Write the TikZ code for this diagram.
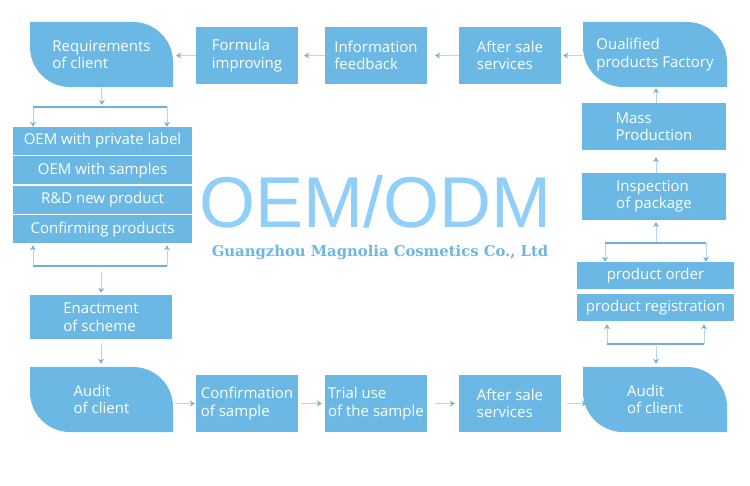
\documentclass[tikz,border=0pt]{standalone}
\usepackage{fontspec}
\setmainfont{Open Sans}
\newfontfamily\titlefont{Liberation Sans}
\newfontfamily\namefont{DejaVu Serif}
\usetikzlibrary{arrows.meta, positioning, calc}
\definecolor{cbox}{HTML}{6AB8E3}
\definecolor{cshaft}{HTML}{B5D7EE}
\definecolor{chead}{HTML}{74B2DA}
\definecolor{cbrace}{HTML}{6DB1DB}
\definecolor{ctitle}{HTML}{8FCFFA}
\tikzset{
  every picture/.style={x=1pt, y=1pt},
  box/.style={fill=cbox, text=white, align=left, inner sep=2pt, minimum width=102pt, minimum height=57pt,
    font=\fontsize{15}{17.5}\selectfont},
  leaf/.style={box, fill=white, minimum width=143pt, minimum height=65pt,
    path picture={\fill[cbox] (path picture bounding box.north west)
      -- ([xshift=-40pt]path picture bounding box.north east)
      arc[start angle=90, end angle=0, radius=40pt]
      -- (path picture bounding box.south east)
      -- ([xshift=40pt]path picture bounding box.south west)
      arc[start angle=270, end angle=180, radius=40pt] -- cycle;}},
  row/.style={box, align=center, minimum width=179pt, minimum height=28pt},
  arrow/.style={draw=cshaft, line width=1pt, -{Stealth[length=5pt, width=6pt, color=chead]}},
  brace/.style={draw=cbrace, line width=2.2pt},
}

\begin{document}
\begin{tikzpicture}
  \useasboundingbox (0,0) rectangle (750,485);
  % top row
  \node[leaf] (req) at (101.5,430.5) {Requirements\\of client};
  \node[box] (formula) at (247,429.5) {Formula\\improving};
  \node[box] (info) at (376,429.5) {Information\\feedback};
  \node[box] (aftertop) at (510,429.5) {After sale\\services};
  \node[leaf, minimum width=144pt] (qual) at (655,430.5) {Oualified\\products Factory};
  % left column
  \node[row] (oem1) at (102.5,344) {OEM with private label};
  \node[row, below=1pt of oem1] (oem2) {OEM with samples};
  \node[row, below=1pt of oem2] (oem3) {R\&D new product};
  \node[row, below=1pt of oem3] (oem4) {Confirming products};
  \node[box, minimum width=142pt, minimum height=44pt] (enact) at (101,168) {Enactment\\of scheme};
  % right column
  \node[box, minimum width=144pt, minimum height=47pt] (mass) at (654,358.5) {Mass\\Production};
  \node[box, minimum width=144pt, minimum height=47pt] (insp) at (654,288.5) {Inspection\\of package};
  \node[row, minimum width=157pt, minimum height=27pt] (order) at (655.5,209.5) {product order};
  \node[row, minimum width=157pt, minimum height=27pt] (reg) at (655.5,177.5) {product registration};
  % bottom row
  \node[leaf] (auditL) at (101.5,85.5) {Audit\\of client};
  \node[box] (confirm) at (247,81.5) {Confirmation\\of sample};
  \node[box] (trial) at (376,81.5) {Trial use\\of the sample};
  \node[box] (afterbot) at (510,81.5) {After sale\\services};
  \node[leaf, minimum width=144pt] (auditR) at (655,85.5) {Audit\\of client};
  % centre title
  \node[anchor=base, font=\titlefont\fontsize{72}{72}\selectfont, text=ctitle] (title) at (375,257) {OEM/ODM};
  \node[anchor=base, font=\namefont\bfseries\fontsize{14.8}{14.8}\selectfont, text=cbox] (company) at (380,228)
    {Guangzhou Magnolia Cosmetics Co., Ltd};
  % bracket points
  \coordinate (lt) at (102,378); \coordinate (ltl) at (33,378); \coordinate (ltr) at (167,378);
  \coordinate (lb) at (102,219); \coordinate (lbl) at (33,219); \coordinate (lbr) at (167,219);
  \coordinate (rt) at (656,242); \coordinate (rtl) at (605,242); \coordinate (rtr) at (706,242);
  \coordinate (rb) at (656,141); \coordinate (rbl) at (607,141); \coordinate (rbr) at (704,141);
  % top row arrows
  \draw[arrow, shorten >=3pt] (formula.west) -- (formula.west -| req.east);
  \draw[arrow, shorten >=6pt] (info.west) -- (info.west -| formula.east);
  \draw[arrow, shorten >=8pt] (aftertop.west) -- (aftertop.west -| info.east);
  \draw[arrow, shorten >=2pt] (aftertop.east -| qual.west) -- (aftertop.east);
  % left column arrows
  \draw[arrow, shorten >=2pt] (req.south) -- (lt);
  \draw[arrow] (ltl) -- (ltl |- oem1.north);
  \draw[arrow] (ltr) -- (ltr |- oem1.north);
  \draw[brace] (ltl) -- (ltr);
  \draw[arrow, shorten >=2pt] (lbl) -- (lbl |- oem4.south);
  \draw[arrow, shorten >=2pt] (lbr) -- (lbr |- oem4.south);
  \draw[arrow, shorten <=6pt, shorten >=2pt] (lb) -- (enact.north);
  \draw[brace] (lbl) -- (lbr);
  \draw[arrow, shorten <=4pt, shorten >=3pt] (enact.south) -- (enact.south |- auditL.north);
  % bottom row arrows
  \draw[arrow, shorten <=2pt, shorten >=1pt] (confirm.west -| auditL.east) -- (confirm.west);
  \draw[arrow, shorten <=4pt, shorten >=3pt] (confirm.east) -- (trial.west);
  \draw[arrow, shorten <=8pt, shorten >=4pt] (trial.east) -- (afterbot.west);
  \draw[arrow, shorten <=6pt, shorten >=-4pt] (afterbot.east) -- (afterbot.east -| auditR.west);
  % right column arrows
  \draw[arrow, shorten <=2pt, shorten >=3pt] (rb) -- (rb |- auditR.north);
  \draw[arrow, shorten >=3pt] (rbl) -- (rbl |- reg.south);
  \draw[arrow, shorten >=3pt] (rbr) -- (rbr |- reg.south);
  \draw[brace] (rbl) -- (rbr);
  \draw[arrow] (rtl) -- (rtl |- order.north);
  \draw[arrow] (rtr) -- (rtr |- order.north);
  \draw[arrow, shorten >=2pt] (rt) -- (rt |- insp.south);
  \draw[brace] (rtl) -- (rtr);
  \draw[arrow, shorten >=7pt] (rt |- insp.north) -- (rt |- mass.south);
  \draw[arrow, shorten >=1pt] (rt |- mass.north) -- (rt |- qual.south);
\end{tikzpicture}
\end{document}
